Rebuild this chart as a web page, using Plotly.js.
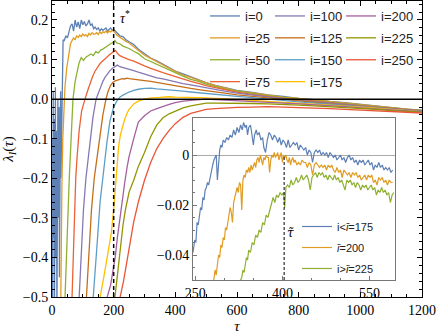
<!DOCTYPE html>
<html>
<head>
<meta charset="utf-8">
<script src="https://cdn.plot.ly/plotly-3.0.1.min.js"></script>
<style>
  html, body { margin: 0; padding: 0; background: #fff; }
  #chart { width: 436px; height: 334px; }
</style>
</head>
<body>
<div id="chart"></div>
<script>
// main panel: rising part of each curve, then a common tail grid
const tailTau = [250,265,280,300,320,340,360,380,400,425,450,475,500,530,560,600,650,700,750,800,850,900,950,1000,1050,1100,1150,1200];

const tau0 = [0,1,2,4,5,7,8,10,11,13,14,16,18,19,21,23,24,26,28,29,31,33,36,40,45,50,55,60,65,70,75,80,85,90,95,100,105,110,115,120,125,130,135,140,145,150,155,160,165,170,175,180,185,190,195,200,205,210,220,230,240];
const lam0 = [-0.55,-0.1,-0.5,0.02,-0.35,-0.05,-0.55,-0.15,0.03,-0.4,-0.08,-0.55,-0.2,0.0,-0.3,-0.02,-0.45,-0.1,0.02,-0.2,-0.05,0.1,0.15,0.148,0.16,0.155,0.168,0.185,0.19,0.172,0.2,0.182,0.195,0.178,0.2,0.188,0.196,0.185,0.19,0.2,0.186,0.19,0.178,0.182,0.176,0.18,0.172,0.178,0.174,0.176,0.18,0.172,0.176,0.18,0.174,0.176,0.172,0.168,0.16,0.158,0.15];
const tail0 = [0.145,0.138,0.126,0.115,0.104,0.097,0.088,0.081,0.071,0.064,0.057,0.048,0.042,0.035,0.030,0.022,0.017,0.011,0.007,0.002,-0.001,-0.006,-0.009,-0.013,-0.018,-0.021,-0.025,-0.028];

const tau25 = [28,30,32,35,38,42,48,55,60,65,70,75,80,85,90,95,100,105,110,115,120,125,130,135,140,145,150,155,160,165,170,175,180,185,190,195,200,205,210,220,230,240];
const lam25 = [-0.55,-0.35,-0.22,-0.1,-0.02,0.03,0.08,0.12,0.14,0.148,0.155,0.15,0.16,0.156,0.162,0.158,0.165,0.16,0.163,0.158,0.166,0.162,0.168,0.164,0.165,0.168,0.163,0.17,0.166,0.17,0.168,0.172,0.167,0.172,0.17,0.174,0.172,0.168,0.162,0.156,0.15,0.146];
const tail25 = [0.142,0.133,0.125,0.111,0.103,0.094,0.086,0.078,0.070,0.061,0.055,0.047,0.041,0.034,0.028,0.021,0.016,0.010,0.005,0.002,-0.002,-0.006,-0.010,-0.014,-0.018,-0.022,-0.025,-0.029];

const tau50 = [40,44,50,56,62,68,75,81,88,95,102,110,118,126,134,142,150,158,166,174,182,190,198,204,210,220,230,240];
const lam50 = [-0.55,-0.45,-0.33,-0.2,-0.1,0.0,0.045,0.07,0.092,0.105,0.098,0.106,0.11,0.114,0.11,0.12,0.117,0.124,0.127,0.132,0.135,0.14,0.143,0.148,0.142,0.14,0.134,0.131];
const tail50 = [0.128,0.121,0.115,0.102,0.095,0.087,0.079,0.073,0.065,0.058,0.050,0.045,0.038,0.032,0.026,0.020,0.014,0.009,0.004,0.000,-0.003,-0.007,-0.011,-0.015,-0.019,-0.022,-0.026,-0.029];

const tau75 = [63,68,72,77,81,88,96,102,107,115,123,131,139,147,156,165,172,178,186,194,200,206,212,220,230,240];
const lam75 = [-0.55,-0.42,-0.3,-0.2,-0.15,-0.08,-0.03,-0.01,0.0,0.02,0.04,0.056,0.07,0.08,0.09,0.097,0.103,0.106,0.112,0.117,0.121,0.123,0.116,0.11,0.106,0.102];
const tail75 = [0.100,0.096,0.090,0.084,0.078,0.072,0.067,0.062,0.057,0.050,0.045,0.040,0.034,0.029,0.024,0.018,0.012,0.007,0.002,-0.001,-0.005,-0.009,-0.012,-0.016,-0.020,-0.023,-0.027,-0.030];

const tau100 = [85,88,95,102,110,117,125,133,143,150,158,165,172,180,188,196,204,212,220,230,240];
const lam100 = [-0.55,-0.5,-0.38,-0.28,-0.2,-0.15,-0.09,-0.045,0.0,0.015,0.03,0.045,0.055,0.064,0.072,0.078,0.083,0.086,0.082,0.08,0.077];
const tail100 = [0.075,0.072,0.068,0.063,0.059,0.054,0.051,0.047,0.044,0.039,0.036,0.032,0.028,0.024,0.020,0.015,0.010,0.005,0.001,-0.003,-0.006,-0.010,-0.013,-0.017,-0.021,-0.024,-0.027,-0.030];

const tau125 = [108,112,120,128,137,146,155,165,175,182,190,197,205,212,220,228,236,243];
const lam125 = [-0.55,-0.5,-0.38,-0.28,-0.2,-0.15,-0.09,-0.04,0.0,0.02,0.035,0.042,0.046,0.048,0.05,0.052,0.051,0.053];
const tail125 = [0.052,0.051,0.049,0.047,0.045,0.042,0.040,0.037,0.034,0.031,0.027,0.024,0.021,0.018,0.015,0.011,0.007,0.003,-0.001,-0.005,-0.008,-0.012,-0.015,-0.018,-0.022,-0.025,-0.028,-0.031];

const tau150 = [129,133,145,156,168,178,188,200,210,220,230,240];
const lam150 = [-0.55,-0.5,-0.38,-0.26,-0.17,-0.11,-0.055,-0.02,-0.005,0.005,0.01,0.015];
const tail150 = [0.018,0.022,0.025,0.027,0.028,0.026,0.025,0.024,0.022,0.020,0.018,0.016,0.014,0.012,0.010,0.007,0.004,0.000,-0.003,-0.007,-0.010,-0.013,-0.016,-0.019,-0.022,-0.025,-0.028,-0.031];

const tau175 = [150,156,168,180,192,200,206,211,216,222,228,236,245];
const lam175 = [-0.55,-0.5,-0.45,-0.4,-0.34,-0.28,-0.22,-0.16,-0.12,-0.09,-0.07,-0.05,-0.033];
const tail175 = [-0.026,-0.012,-0.005,0.000,0.003,0.004,0.005,0.006,0.005,0.005,0.004,0.004,0.003,0.002,0.001,-0.001,-0.003,-0.006,-0.008,-0.010,-0.013,-0.015,-0.018,-0.020,-0.023,-0.026,-0.029,-0.032];

const tau200 = [175,179,190,198,205,212,220,228,236,244];
const lam200 = [-0.55,-0.5,-0.47,-0.43,-0.4,-0.35,-0.3,-0.26,-0.21,-0.17];
const tail200 = [-0.145,-0.1,-0.058,-0.042,-0.030,-0.024,-0.018,-0.013,-0.009,-0.005,-0.003,-0.001,0.000,-0.001,-0.002,-0.004,-0.006,-0.008,-0.010,-0.012,-0.014,-0.017,-0.019,-0.022,-0.025,-0.027,-0.030,-0.032];

const tau225 = [200,204,210,216,222,230,238,246];
const lam225 = [-0.55,-0.5,-0.46,-0.42,-0.37,-0.32,-0.28,-0.25];
const tail225 = [-0.235,-0.205,-0.17,-0.135,-0.095,-0.065,-0.047,-0.037,-0.030,-0.022,-0.017,-0.013,-0.010,-0.010,-0.010,-0.011,-0.011,-0.012,-0.013,-0.015,-0.017,-0.019,-0.022,-0.024,-0.026,-0.029,-0.031,-0.033];

const tau250 = [216,221,232,243];
const lam250 = [-0.55,-0.5,-0.46,-0.41];
const tail250 = [-0.38,-0.31,-0.26,-0.205,-0.16,-0.125,-0.1,-0.079,-0.062,-0.046,-0.036,-0.031,-0.026,-0.024,-0.022,-0.021,-0.020,-0.019,-0.020,-0.021,-0.022,-0.024,-0.026,-0.028,-0.029,-0.031,-0.033,-0.035];

// inset
const insTauA = [246,249,251,253,255,257,259,261,263,265,267,269,271,273,276,278,280,282,284,286,288,290,292,294,296,298,301,304,307,310,313,316,319,322,325,328,331,333,336,338,340,342,345,347,350,352,355,357,360,363,366,368,371,374,377,380,383,386,389,392,395,398,401,404,407,410,413,416,419,422,425,428,431,434,437,440,443,446,449,452,455,458,461,464,467,470,473,476,479,482,485,488,491,494,497,500,503,506,509,512,515,518,521,524,527,530,533,536,539,542,545,548,551,554,557,560,563,566,569,572,575,578,581,584,587,590];
const insLamA = [-0.039,-0.034,-0.035,-0.027,-0.028,-0.023,-0.021,-0.022,-0.017,-0.018,-0.014,-0.013,-0.011,-0.012,-0.008,-0.006,-0.004,-0.002,-0.001,0.0,-0.010,-0.002,0.002,0.004,0.003,0.006,0.005,0.007,0.006,0.008,0.007,0.01,0.008,0.011,0.009,0.012,0.01,0.013,0.011,0.012,0.008,0.011,0.012,0.009,0.004,0.008,0.01,0.008,0.009,0.006,0.007,0.003,0.001,0.006,0.009,0.008,0.006,0.008,0.007,0.005,0.007,0.004,0.006,0.005,0.003,0.006,0.003,0.004,0.005,0.004,0.005,0.002,0.004,0.003,0.002,0.003,0.0,0.002,0.001,-0.003,0.001,0.002,0.001,0.002,0.0,0.001,0.0,0.001,-0.001,0.001,0.0,-0.001,0.0,-0.002,-0.001,0.0,-0.002,-0.001,-0.003,-0.001,0.0,-0.002,-0.001,-0.003,-0.002,-0.004,-0.002,-0.003,-0.002,-0.004,-0.003,-0.002,-0.004,-0.003,-0.006,-0.004,-0.005,-0.003,-0.005,-0.004,-0.006,-0.005,-0.006,-0.005,-0.007,-0.006];

const insTauB = [279,282,284,286,288,290,292,294,296,298,300,302,304,306,308,310,312,314,316,318,320,322,324,326,328,330,332,334,336,338,340,342,344,346,348,350,352,354,356,358,360,362,364,366,368,370,372,374,376,378,380,382,384,386,388,390,392,394,396,398,400,402,404,406,408,410,412,414,416,418,420,422,425,428,431,434,437,440,443,446,449,452,455,458,461,464,467,470,473,476,479,482,485,488,491,494,497,500,503,506,509,512,515,518,521,524,527,530,533,536,539,542,545,548,551,554,557,560,563,566,569,572,575,578,581,584,587,590];
const insLamB = [-0.055,-0.05,-0.046,-0.048,-0.043,-0.04,-0.041,-0.036,-0.037,-0.033,-0.034,-0.029,-0.03,-0.026,-0.024,-0.021,-0.023,-0.027,-0.019,-0.017,-0.015,-0.013,-0.015,-0.011,-0.012,-0.022,-0.01,-0.008,-0.009,-0.006,-0.007,-0.005,-0.007,-0.004,-0.006,-0.004,-0.003,-0.005,-0.002,-0.001,-0.003,0.0,-0.002,-0.004,-0.001,-0.002,0.0,-0.001,-0.001,-0.007,-0.002,0.0,-0.001,0.001,-0.001,0.0,0.001,-0.002,0.0,0.001,-0.003,0.0,-0.001,0.0,-0.002,-0.003,-0.001,-0.004,-0.002,-0.001,-0.003,-0.002,-0.004,-0.003,-0.004,-0.002,-0.003,-0.003,-0.005,-0.003,-0.004,-0.008,-0.004,-0.003,-0.004,-0.005,-0.004,-0.005,-0.004,-0.006,-0.004,-0.005,-0.004,-0.006,-0.007,-0.005,-0.007,-0.006,-0.009,-0.006,-0.007,-0.008,-0.007,-0.009,-0.007,-0.008,-0.007,-0.009,-0.008,-0.01,-0.009,-0.008,-0.01,-0.008,-0.009,-0.008,-0.011,-0.01,-0.012,-0.009,-0.01,-0.009,-0.011,-0.01,-0.012,-0.01,-0.011,-0.011];

const insTauC = [326,328,330,332,334,336,338,340,342,345,348,351,354,357,360,363,366,369,372,375,378,381,384,387,390,393,396,399,402,404,406,409,412,415,418,421,424,427,430,433,436,439,442,445,448,451,454,457,460,463,466,469,472,475,478,481,484,487,490,493,496,499,502,505,508,511,514,517,520,523,526,529,532,535,538,541,544,547,550,553,556,559,562,565,568,571,574,577,580,583,586,589,592];
const insLamC = [-0.056,-0.05,-0.049,-0.046,-0.047,-0.043,-0.041,-0.042,-0.038,-0.039,-0.035,-0.036,-0.032,-0.033,-0.03,-0.031,-0.027,-0.028,-0.024,-0.025,-0.022,-0.02,-0.017,-0.019,-0.016,-0.017,-0.015,-0.016,-0.015,-0.021,-0.013,-0.012,-0.013,-0.01,-0.012,-0.011,-0.009,-0.011,-0.01,-0.008,-0.01,-0.009,-0.008,-0.01,-0.014,-0.009,-0.008,-0.007,-0.009,-0.007,-0.008,-0.007,-0.009,-0.008,-0.01,-0.008,-0.009,-0.01,-0.008,-0.01,-0.009,-0.011,-0.01,-0.012,-0.014,-0.01,-0.011,-0.01,-0.012,-0.011,-0.013,-0.011,-0.012,-0.014,-0.012,-0.013,-0.012,-0.014,-0.013,-0.012,-0.014,-0.013,-0.016,-0.014,-0.015,-0.013,-0.015,-0.014,-0.016,-0.015,-0.019,-0.016,-0.015];

const tauStar = 200;
const tauTilde = 403;

const serif = "Times New Roman, Liberation Serif, DejaVu Serif, serif";
const sans = "Arial, Liberation Sans, sans-serif";

const mainSeries = [
  ["i=0",   "#5E81B5", tau0,   lam0,   tail0,   "legend"],
  ["i=25",  "#E19C24", tau25,  lam25,  tail25,  "legend"],
  ["i=50",  "#8FB032", tau50,  lam50,  tail50,  "legend"],
  ["i=75",  "#EB6235", tau75,  lam75,  tail75,  "legend"],
  ["i=100", "#8778B3", tau100, lam100, tail100, "legend2"],
  ["i=125", "#C56E1A", tau125, lam125, tail125, "legend2"],
  ["i=150", "#5D9EC7", tau150, lam150, tail150, "legend2"],
  ["i=175", "#FFBF00", tau175, lam175, tail175, "legend2"],
  ["i=200", "#A5609D", tau200, lam200, tail200, "legend3"],
  ["i=225", "#929600", tau225, lam225, tail225, "legend3"],
  ["i=250", "#E95536", tau250, lam250, tail250, "legend3"]
];

const traces = mainSeries.map(([name, color, t, l, tail, lg]) => ({
  x: t.concat(tailTau),
  y: l.concat(tail),
  type: "scatter",
  mode: "lines",
  name,
  legend: lg,
  legendgroup: name,
  line: { color, width: 1.3 },
  hoverinfo: "skip"
}));

const insetSeries = [
  ["i&lt;<i>ī</i>=175", "#5E81B5", insTauA, insLamA],
  ["<i>ī</i>=200",      "#E19C24", insTauB, insLamB],
  ["i&gt;<i>ī</i>=225", "#8FB032", insTauC, insLamC]
];
insetSeries.forEach(([name, color, t, l]) => {
  traces.push({
    x: t, y: l, type: "scatter", mode: "lines", name,
    xaxis: "x2", yaxis: "y2", legend: "legend4", legendgroup: name,
    line: { color, width: 1.2 }, hoverinfo: "skip"
  });
});

const tickFont = { family: serif, size: 14, color: "#000" };
const frame = {
  showline: true, linecolor: "#000", linewidth: 1, mirror: "allticks",
  ticks: "inside", ticklen: 5, tickcolor: "#000", showgrid: false, zeroline: false,
  tickfont: tickFont
};
const insetFrame = {
  showline: true, linecolor: "#777", linewidth: 1, mirror: true,
  ticks: "inside", ticklen: 4, tickcolor: "#777", showgrid: false,
  tickfont: tickFont
};
const legendBase = {
  xanchor: "left", yanchor: "top", bgcolor: "rgba(0,0,0,0)", borderwidth: 0,
  font: { family: sans, size: 13, color: "#222" },
  traceorder: "grouped", tracegroupgap: 2
};
const px2x = (px) => (px - 52) / 370;
const px2y = (py) => (297 - py) / 296;

const layout = {
  width: 436, height: 334,
  margin: { l: 52, r: 14, t: 1, b: 37 },
  paper_bgcolor: "#fff", plot_bgcolor: "#fff",
  font: { family: serif },
  showlegend: true,
  xaxis: {
    ...frame, range: [0, 1200], tick0: 0, dtick: 200,
    minor: { ticks: "inside", ticklen: 3, dtick: 50, tickcolor: "#000" },
    title: { text: "<i>τ</i>", font: { family: serif, size: 15, color: "#000" }, standoff: 5 }
  },
  yaxis: {
    ...frame, range: [-0.5, 0.248], tick0: 0, dtick: 0.1, tickformat: ".1f",
    minor: { ticks: "inside", ticklen: 3, dtick: 0.02, tickcolor: "#000" },
    title: { text: "<i>λ<sub>I</sub></i>(<i>τ</i>)", font: { family: serif, size: 15, color: "#000" }, standoff: 5 }
  },
  xaxis2: {
    ...insetFrame, domain: [px2x(193), px2x(395)], anchor: "y2",
    range: [246, 594], tick0: 250, dtick: 150, zeroline: false,
    minor: { ticks: "inside", ticklen: 2, dtick: 50, tickcolor: "#777" }
  },
  yaxis2: {
    ...insetFrame, domain: [px2y(280), px2y(118)], anchor: "x2",
    range: [-0.05, 0.0148], tick0: 0, dtick: 0.02,
    minor: { ticks: "inside", ticklen: 2, dtick: 0.005, tickcolor: "#777" },
    zeroline: true, zerolinecolor: "#aaa", zerolinewidth: 1
  },
  legend:  { ...legendBase, x: px2x(205), y: 1.0 },
  legend2: { ...legendBase, x: px2x(270), y: 1.0 },
  legend3: { ...legendBase, x: px2x(341), y: 1.0 },
  legend4: { ...legendBase, x: px2x(297), y: px2y(212), font: { family: sans, size: 11, color: "#222" } },
  shapes: [
    { type: "line", xref: "paper", yref: "y", x0: 0, x1: 1, y0: 0, y1: 0,
      line: { color: "#000", width: 1.5 }, layer: "above" },
    { type: "line", xref: "x", yref: "paper", x0: tauStar, x1: tauStar, y0: 0, y1: 1,
      line: { color: "#000", width: 1.5, dash: "4px,3px" }, layer: "above" },
    { type: "line", xref: "x2", yref: "y2", x0: tauTilde, x1: tauTilde, y0: -0.05, y1: 0,
      line: { color: "#000", width: 1, dash: "3px,2px" }, layer: "above" }
  ],
  annotations: [
    { xref: "x", yref: "y", x: 237, y: 0.207, text: "<i>τ</i><sup>*</sup>", showarrow: false,
      font: { family: serif, size: 14, color: "#000" } },
    { xref: "x2", yref: "y2", x: 414, y: -0.031, text: "<i>τ̃</i>", showarrow: false,
      font: { family: "DejaVu Serif", size: 12, color: "#000" } }
  ]
};

Plotly.newPlot("chart", traces, layout, { displayModeBar: false, staticPlot: true });
</script>
</body>
</html>
